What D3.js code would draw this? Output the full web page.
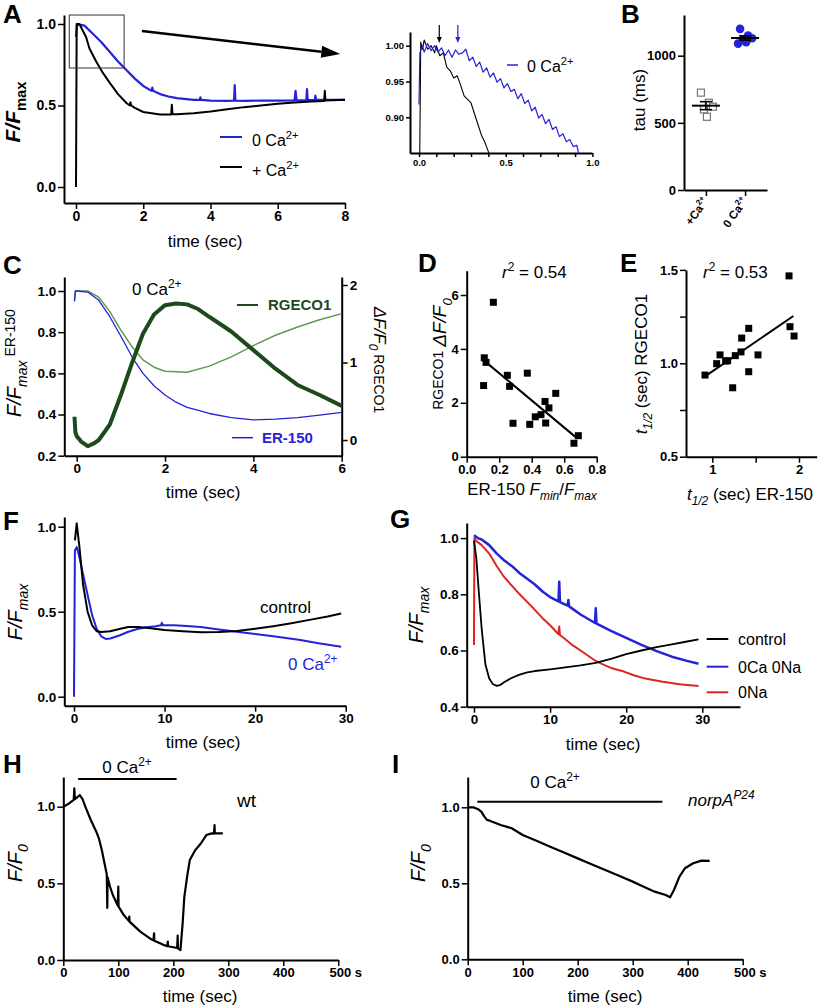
<!DOCTYPE html>
<html>
<head>
<meta charset="utf-8">
<script src="https://d3js.org/d3.v7.min.js"></script>
<style>
  body { margin: 0; background: #fff; }
</style>
</head>
<body>
<script>
// ---- data ----
// A: normalised ER signal, t (s) vs F/Fmax
var aZeroCa = [[0,0.92],[0.03,1.0],[0.25,0.99],[0.5,0.94],[0.75,0.89],[1,0.83],[1.25,0.77],[1.44,0.73],[1.75,0.665],[2,0.62],[2.25,0.59],[2.27,0.61],[2.29,0.59],[2.5,0.57],[2.75,0.555],[3,0.545],[3.5,0.535],[3.68,0.534],[3.7,0.55],[3.72,0.534],[4,0.53],[4.5,0.528],[4.7,0.53],[4.72,0.625],[4.74,0.53],[5,0.528],[5.5,0.53],[6,0.53],[6.5,0.532],[6.53,0.59],[6.56,0.532],[6.85,0.533],[6.87,0.6],[6.89,0.533],[7.1,0.535],[7.12,0.56],[7.14,0.535],[7.5,0.535],[8,0.535]];
var aPlusCa = [[0,0],[0.02,1.0],[0.1,1.0],[0.2,0.96],[0.3,0.92],[0.4,0.85],[0.6,0.77],[0.8,0.7],[1,0.64],[1.25,0.57],[1.5,0.515],[1.6,0.5],[1.62,0.52],[1.64,0.5],[1.75,0.485],[2,0.46],[2.5,0.445],[2.83,0.445],[2.85,0.505],[2.87,0.447],[3,0.447],[3.5,0.453],[4,0.463],[4.5,0.477],[5,0.49],[5.5,0.5],[6,0.51],[6.5,0.518],[7,0.525],[7.38,0.528],[7.4,0.59],[7.42,0.53],[8,0.535]];
var insetZeroCa = [[0,0.918],[0.005,0.99],[0.02,1.0],[0.03,0.991],[0.05,1.003],[0.07,0.993],[0.09,1.0],[0.11,0.991],[0.13,0.997],[0.15,0.986],[0.17,0.994],[0.19,0.984],[0.21,0.994],[0.23,0.988],[0.25,0.99],[0.27,0.995],[0.29,0.979],[0.31,0.984],[0.33,0.971],[0.35,0.977],[0.37,0.963],[0.39,0.969],[0.41,0.956],[0.43,0.962],[0.45,0.949],[0.47,0.954],[0.49,0.941],[0.51,0.947],[0.53,0.936],[0.55,0.939],[0.57,0.926],[0.59,0.933],[0.61,0.919],[0.63,0.924],[0.65,0.909],[0.67,0.914],[0.69,0.899],[0.71,0.904],[0.73,0.891],[0.75,0.897],[0.77,0.883],[0.79,0.887],[0.81,0.873],[0.83,0.877],[0.85,0.866],[0.87,0.869],[0.89,0.859],[0.91,0.861],[0.92,0.85]];
var insetPlusCa = [[0.004,0.84],[0.01,1.005],[0.02,0.995],[0.03,1.008],[0.05,0.995],[0.07,1.0],[0.09,0.99],[0.1,1.0],[0.12,0.986],[0.14,0.99],[0.16,0.97],[0.18,0.965],[0.2,0.955],[0.22,0.958],[0.24,0.945],[0.26,0.93],[0.28,0.925],[0.3,0.92],[0.32,0.905],[0.34,0.89],[0.36,0.875],[0.38,0.865],[0.4,0.852],[0.41,0.84]];
var insetArrows = [0.117, 0.224];

// B: tau (ms)
var bCats = ["+Ca", "0Ca"];
var bPlusCa = [725, 650, 620, 600, 545];
var bZeroCa = [1200, 1150, 1130, 1120, 1100, 1090];

// C: ER-150 (left axis) and RGECO1 (right axis)
var cEr150 = [[-0.05,0.95],[-0.03,1.0],[0,1.0],[0.25,0.995],[0.5,0.955],[0.75,0.875],[1.0,0.78],[1.28,0.67],[1.5,0.6],[1.75,0.54],[2.0,0.495],[2.25,0.46],[2.5,0.435],[2.76,0.42],[3,0.405],[3.5,0.385],[4,0.374],[4.5,0.378],[5,0.385],[5.5,0.397],[6,0.41]];
var cGreenThin = [[-0.05,0.95],[-0.03,1.0],[0.25,1.0],[0.5,0.97],[0.75,0.9],[1.0,0.81],[1.25,0.73],[1.5,0.665],[1.75,0.63],[2,0.61],[2.5,0.605],[3,0.635],[3.5,0.68],[4,0.735],[4.5,0.785],[5,0.825],[5.5,0.86],[6,0.89]];
var cRgeco = [[-0.05,0.3],[-0.03,0.1],[0,0.05],[0.1,-0.02],[0.25,-0.08],[0.4,-0.04],[0.5,0.0],[0.75,0.2],[1,0.58],[1.25,0.99],[1.5,1.37],[1.75,1.62],[2,1.74],[2.25,1.76],[2.5,1.75],[2.75,1.69],[3,1.59],[3.5,1.4],[4,1.16],[4.5,0.92],[5,0.71],[5.5,0.58],[6,0.44]];

// D: ER-150 Fmin/Fmax vs RGECO1 dF/F0
var dX = [0.164,0.108,0.119,0.104,0.25,0.264,0.285,0.373,0.388,0.422,0.457,0.482,0.486,0.506,0.548,0.66,0.687];
var dY = [5.73,3.67,3.50,2.64,3.02,2.61,1.24,3.10,1.20,1.48,1.56,2.05,1.25,1.81,2.35,0.50,0.78];
var dFitX = [0.12, 0.68], dFitY = [3.5, 0.68];

// E: t1/2 ER-150 vs t1/2 RGECO1
var eX = [1.885,0.916,1.05,1.089,1.154,1.177,1.265,1.235,1.331,1.339,1.42,1.42,1.527,1.896,1.943];
var eY = [1.468,0.937,0.998,1.045,1.012,1.014,1.041,0.869,1.061,1.135,0.955,1.187,1.045,1.196,1.146];
var eFitX = [0.916, 1.935], eFitY = [0.93, 1.253];

// F
var fControl = [[0.1,0.92],[0.3,1.02],[0.6,0.88],[1,0.66],[1.5,0.5],[2,0.42],[2.5,0.385],[3,0.38],[4,0.385],[5,0.398],[6,0.41],[7,0.41],[8,0.405],[10,0.393],[12,0.385],[14,0.379],[16,0.38],[18,0.386],[20,0.4],[22,0.415],[24,0.432],[26,0.452],[28,0.472],[29.5,0.49]];
var fZeroCa = [[0,0],[0.1,0.86],[0.3,0.88],[0.6,0.82],[1,0.72],[1.5,0.6],[2,0.48],[2.5,0.4],[3,0.355],[3.5,0.34],[4,0.342],[5,0.36],[6,0.382],[7,0.398],[8,0.408],[9,0.415],[9.6,0.42],[9.7,0.435],[9.8,0.42],[11,0.42],[12,0.418],[14,0.41],[16,0.395],[18,0.382],[20,0.369],[22,0.355],[25,0.333],[27,0.315],[29.5,0.294]];

// G
var gControl = [[0,0.99],[0.3,0.93],[0.6,0.82],[1,0.68],[1.5,0.55],[2,0.5],[2.5,0.48],[3,0.474],[3.5,0.478],[4,0.488],[5,0.503],[6,0.514],[7,0.522],[8,0.527],[10,0.533],[12,0.54],[14,0.547],[16,0.556],[18,0.57],[20,0.587],[22,0.6],[24,0.612],[26,0.622],[28,0.632],[29.5,0.64]];
var gZeroCaNa = [[0,1.01],[0.5,1.0],[1,0.995],[2,0.975],[3,0.945],[4,0.92],[5,0.9],[6,0.875],[7,0.855],[8,0.835],[9,0.81],[10,0.79],[11.1,0.775],[11.2,0.845],[11.3,0.772],[12.3,0.76],[12.4,0.78],[12.5,0.757],[14,0.728],[15.9,0.698],[16,0.75],[16.1,0.696],[18,0.67],[20,0.645],[22,0.62],[24,0.598],[26,0.578],[28,0.563],[29.5,0.553]];
var gZeroNa = [[0,0.62],[0.05,1.0],[0.3,0.99],[1,0.975],[2,0.945],[3,0.9],[4,0.86],[5,0.83],[6,0.8],[7.6,0.756],[9,0.715],[10,0.69],[11.1,0.658],[11.2,0.685],[11.3,0.655],[12,0.64],[13,0.618],[14,0.6],[15.8,0.566],[17,0.55],[18,0.538],[19.7,0.525],[21,0.512],[22.5,0.5],[24.8,0.489],[27,0.48],[29.5,0.474]];
var gLegend = ["control", "0Ca 0Na", "0Na"];

// H, I: long 0 Ca2+ exposure (s)
var hWt = [[0,1.0],[10,1.02],[19,1.045],[20,1.12],[21,1.05],[25,1.06],[30,1.076],[35,1.05],[40,1.0],[50,0.913],[60,0.837],[65,0.79],[70,0.717],[75,0.63],[79,0.56],[80,0.34],[80.5,0.54],[85,0.478],[90,0.424],[99,0.355],[100,0.478],[100.5,0.348],[110,0.293],[119,0.255],[120,0.283],[120.5,0.25],[140,0.185],[160,0.135],[164,0.128],[165,0.174],[165.5,0.126],[180,0.102],[189,0.09],[190,0.12],[190.5,0.09],[200,0.083],[207,0.078],[208,0.159],[208.5,0.076],[213,0.065],[217,0.24],[220,0.41],[225,0.54],[230,0.652],[240,0.717],[250,0.76],[260,0.815],[270,0.826],[274,0.825],[275,0.88],[275.5,0.826],[290,0.826]];
var hBar = [27, 206], hBarLevel = 1.18;
var iNorpA = [[0,1.0],[10,1.0],[20,0.985],[25,0.97],[30,0.94],[35,0.917],[40,0.912],[60,0.884],[80,0.862],[100,0.818],[125,0.78],[150,0.741],[175,0.702],[200,0.664],[225,0.626],[250,0.588],[275,0.55],[300,0.511],[320,0.478],[340,0.445],[360,0.423],[368,0.408],[375,0.456],[385,0.544],[395,0.599],[410,0.632],[425,0.649],[440,0.647]];
var iBar = [17.5, 354], iBarLevel = 1.037;

// ---- drawing ----
var FONT = "'Liberation Sans', Arial, Helvetica, sans-serif";
var BLUE = "#2323d8", RED = "#e02222", DKGREEN = "#1d4a1d", LTGREEN = "#5e9a50";

var svg = d3.select("body").append("svg")
    .attr("width", 820).attr("height", 1008)
    .style("font-family", FONT);
svg.append("rect").attr("width", 820).attr("height", 1008).attr("fill", "#fff");

// linear scale fixed by two tick positions, then stretched to the axis ends
function scale(d0, d1, r0, r1, lo, hi) {
  var s = d3.scaleLinear().domain([d0, d1]).range([r0, r1]);
  return d3.scaleLinear().domain([s.invert(lo), s.invert(hi)]).range([lo, hi]);
}

function axis(gen, sc, tx, ty, ticks, fmt, fs, size) {
  var g = svg.append("g").attr("transform", "translate(" + tx + "," + ty + ")")
      .call(gen(sc).tickValues(ticks).tickFormat(fmt).tickSize(size || 6).tickSizeOuter(0).tickPadding(2));
  g.select(".domain").attr("stroke", "#000").attr("stroke-width", 2);
  g.selectAll(".tick line").attr("stroke", "#000").attr("stroke-width", 1.5);
  g.selectAll(".tick text").attr("font-size", fs || 13).attr("font-weight", "bold")
      .attr("font-family", FONT).attr("fill", "#000");
  return g;
}

function trace(x, y, data, color, w, clip) {
  var p = svg.append("path").datum(data)
      .attr("fill", "none").attr("stroke", color).attr("stroke-width", w)
      .attr("stroke-linejoin", "round")
      .attr("d", d3.line().x(function(d) { return x(d[0]); }).y(function(d) { return y(d[1]); }));
  if (clip) p.attr("clip-path", "url(#" + clip + ")");
  return p;
}

// text with italic / sub / sup pieces
function rich(x, y, parts, o) {
  var t = svg.append("text").attr("x", x).attr("y", y)
      .attr("font-size", o.size).attr("text-anchor", o.anchor || "start")
      .attr("font-weight", o.weight || "normal").attr("fill", o.fill || "#000");
  if (o.rotate) t.attr("transform", "rotate(" + o.rotate + "," + x + "," + y + ")");
  var shift = 0;
  parts.forEach(function(p) {
    var s = t.append("tspan").text(p.t);
    var target = p.sub ? o.size * 0.3 : p.sup ? -o.size * 0.42 : (p.dy || 0);
    if (target !== shift) { s.attr("dy", target - shift); shift = target; }
    if (p.sub || p.sup) s.attr("font-size", o.size * 0.7);
    if (p.size) s.attr("font-size", p.size);
    if (p.i) s.attr("font-style", "italic");
  });
  return t;
}

function letter(ch, x, y) {
  svg.append("text").attr("x", x).attr("y", y).attr("font-size", 26)
      .attr("font-weight", "bold").text(ch);
}

function timeLabel(x, y) {
  svg.append("text").attr("x", x).attr("y", y).attr("text-anchor", "middle")
      .attr("font-size", 17).text("time (sec)");
}

function hline(x0, x1, y, color, w) {
  svg.append("line").attr("x1", x0).attr("x2", x1).attr("y1", y).attr("y2", y)
      .attr("stroke", color).attr("stroke-width", w || 2);
}

var f1 = d3.format(".1f");

// ===== A =====
var xA = scale(0, 8, 76, 345, 64, 345), yA = scale(0, 1, 187, 24, 203, 15);
axis(d3.axisBottom, xA, 0, 203, [0, 2, 4, 6, 8], d3.format("d"), 14);
axis(d3.axisLeft, yA, 64, 0, [0, 0.5, 1], f1, 14);
trace(xA, yA, aZeroCa, BLUE, 2.2);
trace(xA, yA, aPlusCa, "#000", 2);
letter("A", 3, 23);
rich(20, 112, [{t: "F/F", i: true}, {t: "max", sub: true}], {size: 21, weight: "bold", anchor: "middle", rotate: -90});
timeLabel(205, 247);
hline(220, 242, 137, BLUE);
rich(252, 146, [{t: "0 Ca"}, {t: "2+", sup: true}], {size: 16});
hline(220, 242, 167, "#000");
rich(252, 176, [{t: "+ Ca"}, {t: "2+", sup: true}], {size: 16});
// zoom box and arrow to inset
svg.append("rect").attr("x", xA(-0.2)).attr("y", yA(1.055))
    .attr("width", xA(1.43) - xA(-0.2)).attr("height", yA(0.73) - yA(1.055))
    .attr("fill", "none").attr("stroke", "#333").attr("stroke-width", 1);
(function() {
  var x0 = xA(1.96), y0 = yA(0.957), x1 = xA(7.86), y1 = yA(0.816);
  var ang = Math.atan2(y1 - y0, x1 - x0), L = 19, W = 6;
  var bx = x1 - L * Math.cos(ang), by = y1 - L * Math.sin(ang);
  svg.append("line").attr("x1", x0).attr("y1", y0).attr("x2", bx).attr("y2", by)
      .attr("stroke", "#000").attr("stroke-width", 2.5);
  svg.append("path").attr("fill", "#000").attr("d",
      "M" + x1 + "," + y1 +
      "L" + (bx + W * Math.sin(ang)) + "," + (by - W * Math.cos(ang)) +
      "L" + (bx - W * Math.sin(ang)) + "," + (by + W * Math.cos(ang)) + "Z");
})();

// ===== A inset =====
var xIn = scale(0, 0.5, 419, 505.7, 410, 592), yIn = scale(0.9, 1.0, 117.3, 45.7, 153, 32);
svg.append("clipPath").attr("id", "clipIn").append("rect")
    .attr("x", 410).attr("y", 20).attr("width", 182).attr("height", 133);
axis(d3.axisBottom, xIn, 0, 153, d3.range(0, 11).map(function(i) { return i / 10; }),
    function(d) { return Math.round(d * 10) % 5 === 0 ? f1(d) : ""; }, 9.5, 4);
axis(d3.axisLeft, yIn, 410, 0, [0.9, 0.95, 1.0], d3.format(".2f"), 9.5, 4);
trace(xIn, yIn, insetPlusCa, "#000", 1.1, "clipIn");
trace(xIn, yIn, insetZeroCa, BLUE, 1.2, "clipIn");
insetArrows.forEach(function(t, i) {
  var c = i === 0 ? "#000" : BLUE, x = xIn(t);
  svg.append("line").attr("x1", x).attr("x2", x).attr("y1", 25).attr("y2", 38)
      .attr("stroke", c).attr("stroke-width", 1.2);
  svg.append("path").attr("fill", c).attr("d", "M" + (x - 2.5) + ",37L" + (x + 2.5) + ",37L" + x + ",43Z");
});
hline(507, 518, 65, BLUE, 1.5);
rich(527, 72, [{t: "0 Ca"}, {t: "2+", sup: true}], {size: 16});

// ===== B =====
var yB = scale(0, 1000, 190, 55.7, 190, 15);
var xB = d3.scalePoint().domain(bCats).range([684, 767]).padding(0.56);
axis(d3.axisLeft, yB, 684, 0, [0, 500, 1000], d3.format("d"), 13);
axis(d3.axisBottom, xB, 0, 190, bCats, function() { return ""; }, 13);
letter("B", 621, 23);
rich(645, 100, [{t: "tau (ms)"}], {size: 17, anchor: "middle", rotate: -90});
rich(xB("+Ca") + 3, 201, [{t: "+Ca"}, {t: "2+", sup: true}], {size: 11.5, weight: "bold", anchor: "end", rotate: -55});
rich(xB("0Ca") + 3, 201, [{t: "0 Ca"}, {t: "2+", sup: true}], {size: 11.5, weight: "bold", anchor: "end", rotate: -55});
function jit(i) { return [-5, 3, 7, -2, 1, -7][i % 6]; }
bPlusCa.forEach(function(v, i) {
  svg.append("rect").attr("x", xB("+Ca") + jit(i) - 3.5).attr("y", yB(v) - 3.5)
      .attr("width", 7).attr("height", 7).attr("fill", "#fff").attr("stroke", "#777").attr("stroke-width", 1.2);
});
bZeroCa.forEach(function(v, i) {
  svg.append("circle").attr("cx", xB("0Ca") + jit(i)).attr("cy", yB(v)).attr("r", 4.3).attr("fill", BLUE);
});
[["+Ca", bPlusCa], ["0Ca", bZeroCa]].forEach(function(p) {
  var m = d3.mean(p[1]), se = d3.deviation(p[1]) / Math.sqrt(p[1].length), cx = xB(p[0]);
  svg.append("line").attr("x1", cx - 14).attr("x2", cx + 14).attr("y1", yB(m)).attr("y2", yB(m))
      .attr("stroke", "#000").attr("stroke-width", 2);
  svg.append("line").attr("x1", cx).attr("x2", cx).attr("y1", yB(m - se)).attr("y2", yB(m + se))
      .attr("stroke", "#000").attr("stroke-width", 1.6);
  [m - se, m + se].forEach(function(v) {
    svg.append("line").attr("x1", cx - 6).attr("x2", cx + 6).attr("y1", yB(v)).attr("y2", yB(v))
        .attr("stroke", "#000").attr("stroke-width", 1.6);
  });
});

// ===== C =====
var xC = scale(0, 6, 76.7, 341.7, 64.3, 341.7);
var yC = scale(0.2, 1.0, 455.7, 291, 455.7, 277);
var yC2 = scale(0, 2, 440, 285, 455.7, 277);
axis(d3.axisBottom, xC, 0, 455.7, [0, 2, 4, 6], d3.format("d"), 13.5);
axis(d3.axisLeft, yC, 64.3, 0, [0.2, 0.4, 0.6, 0.8, 1.0], f1, 13.5);
axis(d3.axisRight, yC2, 341.7, 0, [0, 1, 2], d3.format("d"), 13.5);
trace(xC, yC, cGreenThin, LTGREEN, 1.5);
trace(xC, yC, cEr150, BLUE, 1.3);
trace(xC, yC2, cRgeco, DKGREEN, 4);
letter("C", 3, 274);
rich(132, 295, [{t: "0 Ca"}, {t: "2+", sup: true}], {size: 17});
hline(237, 258, 305, DKGREEN, 2);
svg.append("text").attr("x", 268).attr("y", 310).attr("font-size", 15).attr("font-weight", "bold")
    .attr("fill", DKGREEN).text("RGECO1");
hline(232, 253, 437.7, BLUE, 1.5);
svg.append("text").attr("x", 262).attr("y", 443).attr("font-size", 15).attr("font-weight", "bold")
    .attr("fill", BLUE).text("ER-150");
rich(21, 363, [{t: "F/F", i: true}, {t: "max", sub: true, i: true}, {t: "   ER-150", size: 14, dy: -6}],
    {size: 20, anchor: "middle", rotate: -90});
rich(374, 360, [{t: "\u0394F/F", i: true}, {t: "0", sub: true, i: true}, {t: " RGECO1", size: 14, dy: 0}],
    {size: 17, anchor: "middle", rotate: 90});
timeLabel(203, 498);

// ===== D =====
var xD = scale(0, 0.8, 466.7, 596.7, 466.7, 596.7), yD = scale(0, 6, 456.7, 295, 456.7, 270.7);
axis(d3.axisBottom, xD, 0, 456.7, [0, 0.2, 0.4, 0.6, 0.8], f1, 13);
axis(d3.axisLeft, yD, 466.7, 0, [0, 2, 4, 6], d3.format("d"), 13);
dX.forEach(function(v, i) {
  svg.append("rect").attr("x", xD(v) - 3.5).attr("y", yD(dY[i]) - 3.5).attr("width", 7).attr("height", 7).attr("fill", "#000");
});
svg.append("line").attr("x1", xD(dFitX[0])).attr("y1", yD(dFitY[0])).attr("x2", xD(dFitX[1])).attr("y2", yD(dFitY[1]))
    .attr("stroke", "#000").attr("stroke-width", 2);
letter("D", 418, 272);
rich(502, 278, [{t: "r", i: true}, {t: "2", sup: true}, {t: " = 0.54", dy: 0}], {size: 17});
rich(446, 354, [{t: "RGECO1  ", size: 14, dy: -3}, {t: "\u0394F/F", i: true, dy: 0}, {t: "0", sub: true, i: true}],
    {size: 19, anchor: "middle", rotate: -90});
rich(532, 495, [{t: "ER-150 "}, {t: "F", i: true}, {t: "min", sub: true, i: true}, {t: "/", dy: 0}, {t: "F", i: true}, {t: "max", sub: true, i: true}],
    {size: 17, anchor: "middle"});

// ===== E =====
var xE = scale(1, 2, 712.3, 799, 686, 816.7), yE = scale(0.5, 1.0, 456.7, 363.3, 456.7, 270);
axis(d3.axisBottom, xE, 0, 456.7, [1, 1.5, 2], function(d) { return d === 1.5 ? "" : d; }, 13);
axis(d3.axisLeft, yE, 686, 0, [0.5, 0.75, 1.0, 1.25, 1.5], function(d) { return (d * 4) % 2 === 0 ? f1(d) : ""; }, 13);
eX.forEach(function(v, i) {
  svg.append("rect").attr("x", xE(v) - 3.5).attr("y", yE(eY[i]) - 3.5).attr("width", 7).attr("height", 7).attr("fill", "#000");
});
svg.append("line").attr("x1", xE(eFitX[0])).attr("y1", yE(eFitY[0])).attr("x2", xE(eFitX[1])).attr("y2", yE(eFitY[1]))
    .attr("stroke", "#000").attr("stroke-width", 2);
letter("E", 620, 272);
rich(703, 278, [{t: "r", i: true}, {t: "2", sup: true}, {t: " = 0.53", dy: 0}], {size: 17});
rich(647, 364, [{t: "t", i: true}, {t: "1/2", sub: true, i: true}, {t: " (sec) RGECO1", dy: 0}],
    {size: 17, anchor: "middle", rotate: -90});
rich(750, 500, [{t: "t", i: true}, {t: "1/2", sub: true, i: true}, {t: " (sec) ER-150", dy: 0}],
    {size: 17, anchor: "middle"});

// ===== F =====
var xF = scale(0, 30, 74, 345.7, 64.3, 345.7), yF = scale(0, 0.5, 696.7, 611.7, 705.7, 517);
axis(d3.axisBottom, xF, 0, 705.7, [0, 10, 20, 30], d3.format("d"), 13.5);
axis(d3.axisLeft, yF, 64.3, 0, [0, 0.5, 1.0], f1, 13.5);
trace(xF, yF, fZeroCa, BLUE, 2);
trace(xF, yF, fControl, "#000", 2);
letter("F", 3, 530);
svg.append("text").attr("x", 260).attr("y", 613).attr("font-size", 17).text("control");
rich(288, 670, [{t: "0 Ca"}, {t: "2+", sup: true}], {size: 17, fill: BLUE});
rich(22, 612, [{t: "F/F", i: true}, {t: "max", sub: true, i: true}], {size: 20, anchor: "middle", rotate: -90});
timeLabel(203, 748);

// ===== G =====
var xG = scale(0, 30, 474, 702.3, 466.7, 740), yG = scale(0.4, 0.8, 706.7, 594.3, 706.7, 523);
axis(d3.axisBottom, xG, 0, 706.7, [0, 10, 20, 30], d3.format("d"), 13.5);
axis(d3.axisLeft, yG, 466.7, 0, [0.4, 0.6, 0.8, 1.0], f1, 13.5);
trace(xG, yG, gZeroNa, RED, 2);
trace(xG, yG, gZeroCaNa, BLUE, 2.5);
trace(xG, yG, gControl, "#000", 1.8);
letter("G", 390, 528);
[["#000", 639], [BLUE, 666.7], [RED, 692.3]].forEach(function(s, i) {
  hline(706.7, 728.3, s[1], s[0], 2);
  svg.append("text").attr("x", 738).attr("y", s[1] + 6).attr("font-size", 16).text(gLegend[i]);
});
rich(423, 615, [{t: "F/F", i: true}, {t: "max", sub: true, i: true}], {size: 20, anchor: "middle", rotate: -90});
timeLabel(603, 750);

// ===== H =====
var xH = scale(0, 500, 63.3, 338.3, 63.3, 338.3), yH = scale(0, 1, 960, 806.7, 960, 777);
var gh = axis(d3.axisBottom, xH, 0, 960, [0, 100, 200, 300, 400, 500], function(d) { return d === 500 ? "500 s" : d; }, 13);
gh.selectAll(".tick text").filter(function(d) { return d === 500; }).attr("dx", 7);
axis(d3.axisLeft, yH, 63.3, 0, [0, 0.5, 1.0], f1, 13);
trace(xH, yH, hWt, "#000", 2.2);
letter("H", 3, 773);
hline(xH(hBar[0]), xH(hBar[1]), yH(hBarLevel), "#000", 2);
rich(127, 773, [{t: "0  Ca"}, {t: "2+", sup: true}], {size: 17, anchor: "middle"});
svg.append("text").attr("x", 237).attr("y", 807).attr("font-size", 19).text("wt");
rich(22, 863, [{t: "F/F", i: true}, {t: "0", sub: true, i: true}], {size: 20, anchor: "middle", rotate: -90});
timeLabel(200, 1002);

// ===== I =====
var xI = scale(0, 500, 467.7, 742.7, 467.7, 742.7), yI = scale(0, 1, 959.3, 807.3, 959.3, 777);
var gi = axis(d3.axisBottom, xI, 0, 959.3, [0, 100, 200, 300, 400, 500], function(d) { return d === 500 ? "500 s" : d; }, 13);
gi.selectAll(".tick text").filter(function(d) { return d === 500; }).attr("dx", 7);
axis(d3.axisLeft, yI, 467.7, 0, [0, 0.5, 1.0], f1, 13);
trace(xI, yI, iNorpA, "#000", 2.2);
letter("I", 392, 773);
hline(xI(iBar[0]), xI(iBar[1]), yI(iBarLevel), "#000", 2);
rich(555, 788, [{t: "0  Ca"}, {t: "2+", sup: true}], {size: 17, anchor: "middle"});
rich(688, 806, [{t: "norpA", i: true}, {t: "P24", sup: true, i: true}], {size: 17});
rich(425, 863, [{t: "F/F", i: true}, {t: "0", sub: true, i: true}], {size: 20, anchor: "middle", rotate: -90});
timeLabel(605, 1002);
</script>
</body>
</html>
